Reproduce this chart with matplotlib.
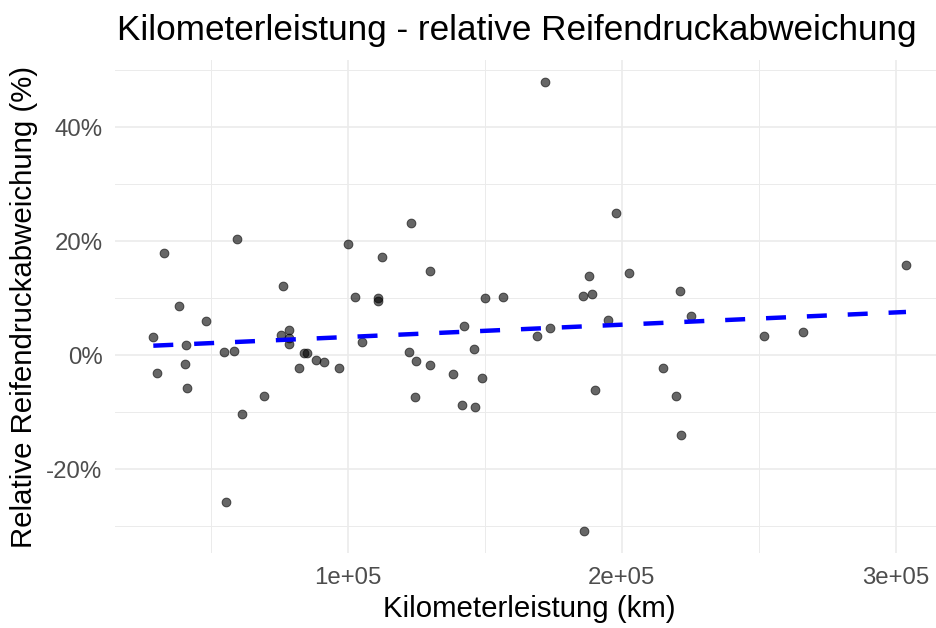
import numpy as np
import matplotlib
matplotlib.use("Agg")
import matplotlib.pyplot as plt
from matplotlib.ticker import FixedLocator, FuncFormatter

plt.rcParams['font.family'] = ['Liberation Sans', 'DejaVu Sans']

# ---- data ----
km = [32956, 38430, 59490, 76280, 100000, 112630, 102550, 111000, 111200,
      48280, 29050, 40880, 30510, 40620, 41460, 54960, 58610, 69450, 61310,
      55660, 75660, 78690, 78690, 78690, 84000, 85300, 88320, 91460, 82230,
      96930, 105110, 172000, 123000, 197810, 129930, 188070, 202670, 150110,
      156790, 185990, 189160, 142560, 146210, 122480, 124810, 130040, 138540,
      148900, 124560, 141610, 146350, 169200, 173830, 195000, 190250, 186240,
      221280, 225180, 251930, 266170, 303760, 215180, 219710, 221640]
abw = [18.0, 8.7, 20.4, 12.1, 19.6, 17.2, 10.3, 10.0, 9.6,
       6.05, 3.25, 1.8, -3.1, -1.5, -5.75, 0.5, 0.8, -7.1, -10.4,
       -25.75, 3.5, 4.35, 3.1, 1.96, 0.4, 0.4, -0.9, -1.25, -2.2,
       -2.2, 2.3, 47.9, 23.3, 25.0, 14.7, 13.9, 14.5, 10.0,
       10.3, 10.4, 10.7, 5.2, 1.1, 0.56, -1.1, -1.7, -3.25,
       -4.0, -7.3, -8.75, -9.15, 3.35, 4.8, 6.2, -6.1, -30.8,
       11.25, 6.9, 3.3, 4.1, 15.8, -2.25, -7.2, -14.0]

x_major = [100000, 200000, 300000]
x_major_labels = ["1e+05", "2e+05", "3e+05"]
x_minor = [50000, 150000, 250000]
y_major = [-20, 0, 20, 40]
y_minor = [-30, -10, 10, 30, 50]
x_limits = [15070, 315080]

title = "Kilometerleistung - relative Reifendruckabweichung"
xlabel = "Kilometerleistung (km)"
ylabel = "Relative Reifendruckabweichung (%)"

W, H = 937, 628
fig = plt.figure(figsize=(W / 100, H / 100), dpi=100)

# panel in pixel coordinates (reference is cropped at the right edge)
pl, pr, pt, pb = 115, 937, 60, 553
ax = fig.add_axes([pl / W, 1 - pb / H, (pr - pl) / W, (pb - pt) / H])

x = np.array(km, dtype=float)
y = np.array(abw, dtype=float)

yr = y.max() - y.min()
ax.set_xlim(*x_limits)
ax.set_ylim(y.min() - 0.05 * yr, y.max() + 0.05 * yr)

for s in ax.spines.values():
    s.set_visible(False)

ax.xaxis.set_major_locator(FixedLocator(x_major))
ax.xaxis.set_minor_locator(FixedLocator(x_minor))
ax.yaxis.set_major_locator(FixedLocator(y_major))
ax.yaxis.set_minor_locator(FixedLocator(y_minor))
ax.set_xticklabels(x_major_labels)
ax.yaxis.set_major_formatter(FuncFormatter(lambda v, p: f"{v:.0f}%"))

ax.grid(which='major', color='#EBEBEB', linewidth=1.2)
ax.grid(which='minor', color='#EBEBEB', linewidth=0.7)
ax.set_axisbelow(True)
ax.tick_params(which='both', length=0)
ax.tick_params(axis='x', pad=10, labelsize=17.3, labelcolor='#4D4D4D')
ax.tick_params(axis='y', pad=9, labelsize=17.3, labelcolor='#4D4D4D')

ax.scatter(x, y, s=40, color='black', alpha=0.6, edgecolors='black',
           linewidths=0.7, zorder=3)

# linear fit (geom_smooth method = lm, se = FALSE)
b, a = np.polyfit(x, y, 1)
xs = np.array([x.min(), x.max()])
ax.plot(xs, a + b * xs, color='blue', linewidth=3.2, dashes=(4.5, 4.7),
        solid_capstyle='butt', dash_capstyle='butt', zorder=4)

fig.text(117 / W, 1 - 40 / H, title, fontsize=25.3, color='black',
         ha='left', va='baseline')
fig.text(529 / W, 1 - 617 / H, xlabel, fontsize=21.2, color='black',
         ha='center', va='baseline')
fig.text(24 / W, 1 - 306.5 / H, ylabel, fontsize=21.2, color='black',
         ha='center', va='center', rotation=90)

fig.savefig("out.png", dpi=100, facecolor='white')
